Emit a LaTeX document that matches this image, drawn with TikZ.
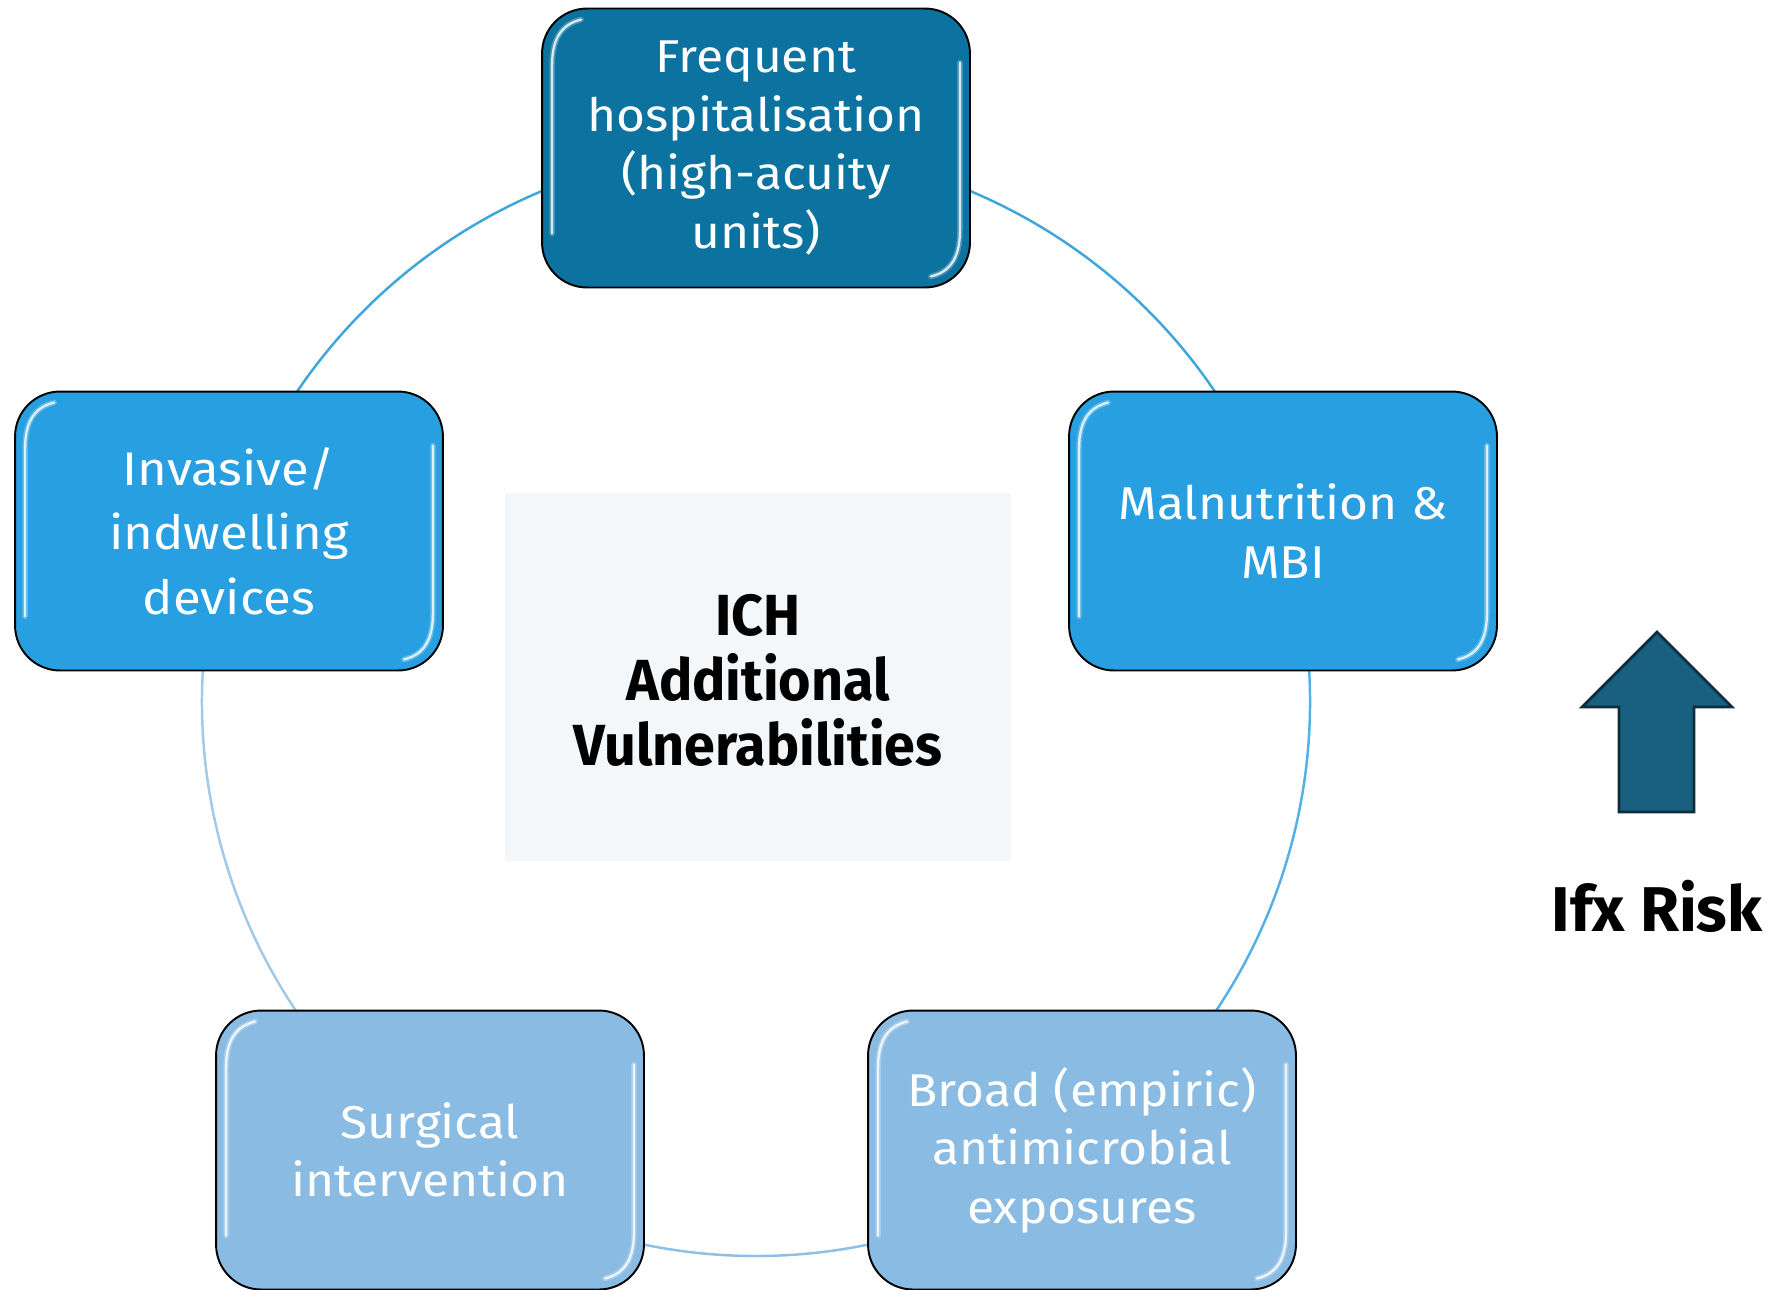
\documentclass[tikz,border=0pt]{standalone}
\usepackage{fontspec}
\setmainfont{Fira Sans}
\newfontfamily\cardfont[FakeStretch=1.08]{Fira Sans}
\newfontfamily\headfont[FakeStretch=0.96]{Fira Sans}
\usetikzlibrary{calc}

\definecolor{deepfill}{HTML}{0C73A0}
\definecolor{midfill}{HTML}{279FE0}
\definecolor{softfill}{HTML}{8ABBE2}
\definecolor{corebg}{HTML}{F3F7FA}
\definecolor{ringA}{HTML}{3EA6DA}
\definecolor{ringB}{HTML}{55B0E3}
\definecolor{ringC}{HTML}{90BFE4}
\definecolor{ringD}{HTML}{A3C9E8}
\definecolor{arrowfill}{HTML}{185F80}
\definecolor{arrowline}{HTML}{0E2E40}

% gloss strokes along the inner left and right edges of a box
\newcommand\glint[1]{%
  \foreach \sty in {glow,gloss}{
    \draw[\sty] ($(#1.north west)+(40,12)$) .. controls ($(#1.north west)+(19,17)$) and ($(#1.north west)+(11,33)$) .. ($(#1.north west)+(11,58)$) -- ($(#1.south west)+(11,-55)$);
    \draw[\sty] ($(#1.north east)+(-11,55)$) -- ($(#1.south east)+(-11,-58)$) .. controls ($(#1.south east)+(-11,-33)$) and ($(#1.south east)+(-19,-17)$) .. ($(#1.south east)+(-40,-12)$);
  }
}

\begin{document}
\begin{tikzpicture}[x=0.02cm, y=-0.02cm,
  ring/.style={line width=1.4pt},
  card/.style={draw=black, line width=1.1pt, rounded corners=0.9cm,
    minimum width=8.56cm, minimum height=5.58cm, inner sep=0pt,
    text=white, align=center, font=\cardfont\fontsize{26.2}{33.3}\selectfont},
  glow/.style={white, opacity=0.25, line width=3.2pt, line cap=round},
  gloss/.style={white, opacity=0.8, line width=1.3pt, line cap=round},
  heading/.style={font=\headfont\bfseries\fontsize{33}{37}\selectfont, align=center, text=black}]

\useasboundingbox (0,0) rectangle (1777,1289);
\fill[white] (0,0) rectangle (1777,1289);

% the ring that links the five factors
\coordinate (c) at (756,702);
\draw[ring, ringA] (c) ++(-90:554) arc[start angle=-90, end angle=-18, radius=554];
\draw[ring, ringB] (c) ++(-18:554) arc[start angle=-18, end angle=54, radius=554];
\draw[ring, ringC] (c) ++(54:554) arc[start angle=54, end angle=126, radius=554];
\draw[ring, ringD] (c) ++(126:554) arc[start angle=126, end angle=198, radius=554];
\draw[ring, ringA] (c) ++(198:554) arc[start angle=198, end angle=270, radius=554];

% centre panel
\node[fill=corebg, minimum width=10.14cm, minimum height=7.36cm, inner sep=0pt] (core) at (758,677) {};
\node[heading] (coretext) at (758,680) {ICH\\Additional\\Vulnerabilities};

% factor boxes
\node[card, fill=deepfill] (hosp) at (756,148) {Frequent\\hospitalisation\\(high-acuity\\units)};
\node[card, fill=midfill] (malnut) at (1283,531) {Malnutrition \&\\MBI};
\node[card, fill=midfill, font=\cardfont\fontsize{26.8}{36.8}\selectfont] (device) at (229,531) {Invasive/\\indwelling\\devices};
\node[card, fill=softfill] (surg) at (430,1150) {Surgical\\intervention};
\node[card, fill=softfill] (abx) at (1082,1150) {Broad (empiric)\\antimicrobial\\exposures};

\glint{hosp}
\glint{malnut}
\glint{device}
\glint{surg}
\glint{abx}

% risk arrow
\filldraw[fill=arrowfill, draw=arrowline, line width=1.6pt, line join=miter]
  (1657,632) -- (1732,707) -- (1694,707) -- (1694,812) -- (1619,812) -- (1619,707) -- (1582,707) -- cycle;
\node[font=\bfseries\fontsize{36}{40}\selectfont, anchor=base] (risk) at (1657,931) {Ifx Risk};
\end{tikzpicture}
\end{document}
